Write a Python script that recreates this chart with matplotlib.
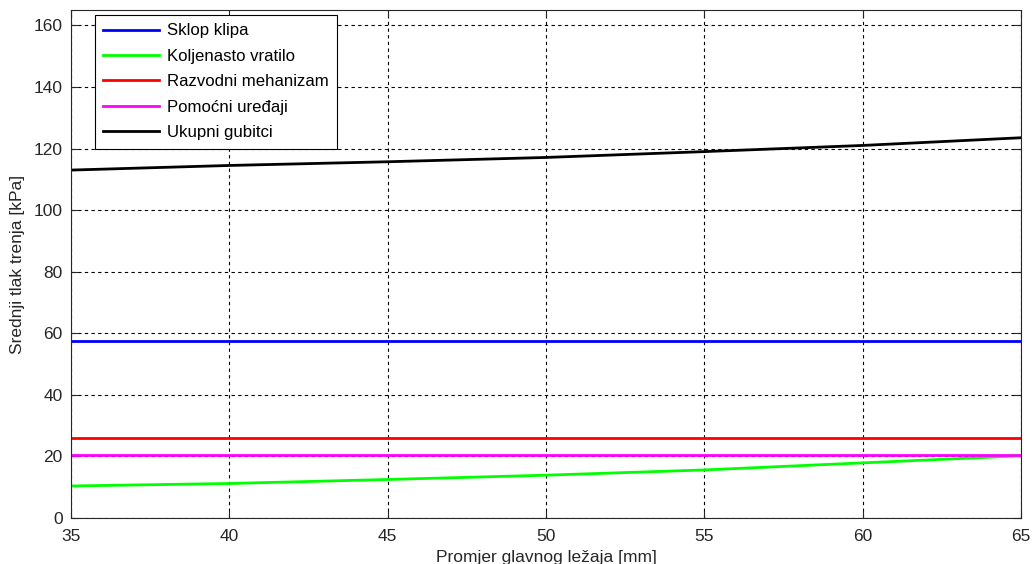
import matplotlib
matplotlib.use("Agg")
import matplotlib.pyplot as plt

# promjer glavnog lezaja [mm]
promjer = [35, 40, 45, 50, 55, 60, 65]

# srednji tlak trenja [kPa] po komponentama
sklop_klipa = [57.4, 57.4, 57.4, 57.4, 57.4, 57.4, 57.4]
koljenasto_vratilo = [10.4, 11.2, 12.5, 13.9, 15.6, 17.9, 20.2]
razvodni_mehanizam = [26.0, 26.0, 26.0, 26.0, 26.0, 26.0, 26.0]
pomocni_uredjaji = [20.4, 20.4, 20.4, 20.4, 20.4, 20.4, 20.4]
ukupni_gubitci = [113.0, 114.5, 115.7, 117.1, 119.0, 121.0, 123.5]

plt.rcParams['font.family'] = ['Liberation Sans', 'DejaVu Sans']

fig = plt.figure(figsize=(10.32, 5.64), dpi=100)
ax = fig.add_axes([0.0688, 0.0816, 0.9205, 0.9007])

ax.plot(promjer, sklop_klipa, color='#0000ff', lw=2, label='Sklop klipa')
ax.plot(promjer, koljenasto_vratilo, color='#00ff00', lw=2, label='Koljenasto vratilo')
ax.plot(promjer, razvodni_mehanizam, color='#ff0000', lw=2, label='Razvodni mehanizam')
ax.plot(promjer, pomocni_uredjaji, color='#ff00ff', lw=2, label='Pomoćni uređaji')
ax.plot(promjer, ukupni_gubitci, color='black', lw=2, label='Ukupni gubitci')

ax.set_xlim(35, 65)
ax.set_ylim(0, 165)
ax.set_xticks(range(35, 66, 5))
ax.set_yticks(range(0, 161, 20))
ax.grid(True, color='black', linestyle=(0, (3, 3)), linewidth=0.8)
ax.tick_params(direction='in', top=True, right=True, length=5, labelsize=12.5, colors='#262626')
ax.tick_params(axis='x', pad=8)
ax.tick_params(axis='y', pad=6)
for s in ax.spines.values():
    s.set_color('#262626')

ax.set_xlabel('Promjer glavnog ležaja [mm]', fontsize=12.5, color='#262626', labelpad=4)
ax.set_ylabel('Srednji tlak trenja [kPa]', fontsize=12.5, color='#262626', labelpad=6)

leg = ax.legend(loc='upper left', bbox_to_anchor=(0.0253, 0.990), borderaxespad=0,
                fontsize=12.1, handlelength=3.3, handletextpad=0.5, fancybox=False,
                edgecolor='black', framealpha=1, labelspacing=0.62, borderpad=0.5)
leg.get_frame().set_linewidth(0.8)

plt.savefig('out.png', dpi=100)
